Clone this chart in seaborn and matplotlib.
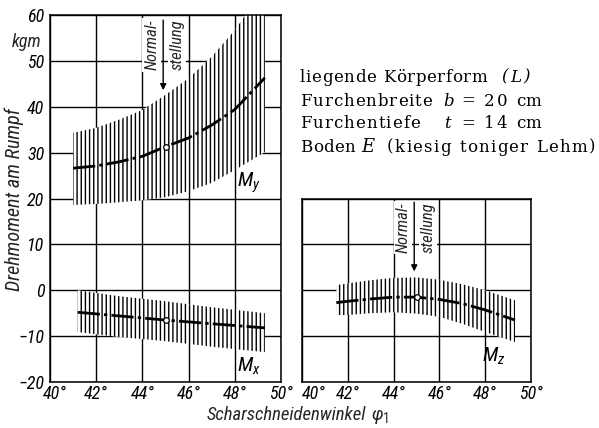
import matplotlib
matplotlib.use("Agg")
import matplotlib.pyplot as plt
import matplotlib.transforms as mtransforms
import seaborn as sns
import numpy as np
import pandas as pd

# ---------------- data ----------------
phi_y = [41.0, 42.0, 43.0, 44.0, 45.0, 46.0, 47.0, 48.0, 49.3]
My_mid = [26.6, 27.1, 28.0, 29.2, 31.3, 33.2, 36.0, 39.4, 46.3]
My_hi = [34.3, 35.4, 37.2, 39.3, 42.6, 46.2, 50.9, 56.7, 66.0]
My_lo = [18.6, 18.8, 19.2, 19.6, 20.3, 21.6, 23.4, 26.2, 30.1]

phi_x = [41.2, 43.0, 45.0, 47.0, 49.3]
Mx_mid = [-4.8, -5.6, -6.5, -7.3, -8.2]
Mx_hi = [0.0, -1.3, -2.4, -3.7, -5.0]
Mx_lo = [-9.1, -10.2, -11.1, -12.3, -13.5]

phi_z = [41.5, 42.0, 43.0, 44.0, 45.0, 46.0, 47.0, 48.0, 49.3]
Mz_mid = [-2.7, -2.4, -1.9, -1.5, -1.5, -2.0, -2.9, -4.3, -6.5]
Mz_hi = [1.1, 1.5, 2.2, 2.7, 2.8, 2.3, 1.3, 0.0, -2.2]
Mz_lo = [-5.4, -5.4, -5.0, -4.8, -5.1, -5.8, -7.3, -9.1, -11.3]

normal_phi = 45.0
x_ticks = [40, 42, 44, 46, 48, 50]
y_ticks_left = [-20, -10, 0, 10, 20, 30, 40, 50, 60]
y_ticks_right = [-20, -10, 0, 10, 20]

# ---------------- style ----------------
sns.set_theme(style="white")
plt.rcParams["font.family"] = ["Roboto Condensed", "Roboto", "DejaVu Sans"]
plt.rcParams["hatch.linewidth"] = 1.0
plt.rcParams["mathtext.fontset"] = "custom"
plt.rcParams["mathtext.it"] = "Roboto Condensed:italic"
plt.rcParams["mathtext.rm"] = "Roboto Condensed"

fig = plt.figure(figsize=(5.99, 4.28), dpi=100)
fig.patch.set_facecolor("white")

H = 428.0
W = 599.0
axL = fig.add_axes([50 / W, 1 - 382 / H, 231 / W, 367 / H])
axR = fig.add_axes([302 / W, 1 - 382 / H, 229 / W, 183.5 / H])

tick_font = dict(fontsize=13, style="italic")


def style_axes(ax, yticks, ylabels):
    ax.set_xlim(40, 50)
    ax.set_xticks(x_ticks)
    ax.set_xticklabels([f"{v}°" for v in x_ticks], **tick_font)
    ax.set_yticks(yticks)
    if ylabels:
        ax.set_yticklabels([str(v).replace("-", "\u2212") for v in yticks], **tick_font)
    else:
        ax.set_yticklabels([])
    ax.grid(True, color="black", lw=1.0, zorder=1)
    ax.set_axisbelow(True)
    ax.tick_params(axis="y", length=0, pad=4, colors="black")
    ax.tick_params(axis="x", length=0, pad=2, colors="black")
    for s in ax.spines.values():
        s.set_color("black")
        s.set_linewidth(1.1)
        s.set_zorder(5)
    ax.set_xlabel("")
    ax.set_ylabel("")


def band(ax, phi, lo, hi, mid):
    ax.fill_between(phi, lo, hi, facecolor="white", edgecolor="black",
                    hatch="||||", linewidth=0, zorder=2)
    df = pd.DataFrame({"phi": phi, "M": mid})
    sns.lineplot(data=df, x="phi", y="M", ax=ax, color="black", lw=2.0,
                 linestyle=(0, (8, 1.5, 1.2, 1.5)), zorder=3)
    m = float(np.interp(normal_phi, phi, mid))
    ax.plot([normal_phi], [m], marker="o", ms=4, mfc="white", mec="black",
            mew=0.9, zorder=4)


band(axL, phi_y, My_lo, My_hi, My_mid)
band(axL, phi_x, Mx_lo, Mx_hi, Mx_mid)
band(axR, phi_z, Mz_lo, Mz_hi, Mz_mid)

axL.set_ylim(-20, 60)
axR.set_ylim(-20, 20)
style_axes(axL, y_ticks_left, True)
style_axes(axR, y_ticks_right, False)

# first x tick labels start just right of the axis corner (as in the reference)
lbl = axL.get_xticklabels()[0]
lbl.set_ha("left")
lbl.set_transform(lbl.get_transform() + mtransforms.ScaledTranslation(-7 / 100, 0, fig.dpi_scale_trans))
lbl = axR.get_xticklabels()[0]
lbl.set_ha("left")

# curve labels
lab = dict(fontsize=15, color="black", zorder=6, ha="left", va="center")
axL.text(48.1, 23.4, r"$M_y$", **lab)
axL.text(48.1, -16.5, r"$M_x$", **lab)
axR.text(47.85, -14.3, r"$M_z$", **lab)


# Normalstellung annotations
def normal(ax, y_top, y_tip, y_txt):
    ax.annotate("", xy=(normal_phi - 0.1, y_tip), xytext=(normal_phi - 0.1, y_top),
                arrowprops=dict(arrowstyle="-|>", color="black", lw=1.0,
                                mutation_scale=9), zorder=6)
    tb = dict(boxstyle="square,pad=0.1", fc="white", ec="none")
    ax.text(normal_phi - 0.6, y_txt, "Normal-", rotation=90, ha="center",
            va="top", fontsize=12, style="italic", bbox=tb, zorder=6)
    ax.text(normal_phi + 0.5, y_txt, "stellung", rotation=90, ha="center",
            va="top", fontsize=12, style="italic", bbox=tb, zorder=6)


normal(axL, 59.5, 43.0, 59.0)
normal(axR, 19.8, 3.5, 19.2)

# axis texts
fig.text(27 / W, 1 - 42 / H, "kgm", ha="center", va="center",
         fontsize=13, style="italic")
fig.text(14 / W, 1 - 200 / H, "Drehmoment am Rumpf", rotation=90,
         ha="center", va="center", fontsize=14.5, style="italic")
fig.text(207 / W, 1 - 415 / H, "Scharschneidenwinkel", ha="left",
         va="center", fontsize=13.5, style="italic")
fig.text(371 / W, 1 - 416 / H, r"$\varphi_1$", ha="left", va="center",
         fontsize=14)

# info block: letter-spaced serif text fitted to the reference spans
renderer = fig.canvas.get_renderer()


def spaced(x0, x1, y, s, italic=False, size=12):
    kw = dict(family=["DejaVu Serif"], fontsize=size, va="center",
              ha="left", color="black", style="italic" if italic else "normal")
    widths = []
    for ch in s:
        if ch == " ":
            t = fig.text(0, 0, "n", **kw)
            w = t.get_window_extent(renderer).width * 0.6
        else:
            t = fig.text(0, 0, ch, **kw)
            w = t.get_window_extent(renderer).width
        t.remove()
        widths.append(w)
    n = len(s)
    gap = (x1 - x0 - sum(widths)) / max(n - 1, 1)
    x = x0
    for ch, w in zip(s, widths):
        if ch != " ":
            fig.text(x / W, 1 - y / H, ch, **kw)
        x += w + gap


spaced(300, 487, 77, "liegende Körperform")
spaced(501, 530, 77, "(L)", italic=True)
spaced(300, 432, 101, "Furchenbreite")
spaced(443, 453, 101, "b", italic=True)
spaced(461, 474, 101, "=")
spaced(484, 507, 101, "20")
spaced(516, 541, 101, "cm")
spaced(300, 420, 124, "Furchentiefe")
spaced(444, 450, 124, "t", italic=True)
spaced(461, 474, 124, "=")
spaced(484, 507, 124, "14")
spaced(516, 541, 124, "cm")
spaced(300, 355, 147, "Boden")
spaced(361, 377, 147, "E", italic=True, size=13)
spaced(387, 595, 147, "(kiesig toniger Lehm)")

fig.savefig("out.png", dpi=100, facecolor="white")
